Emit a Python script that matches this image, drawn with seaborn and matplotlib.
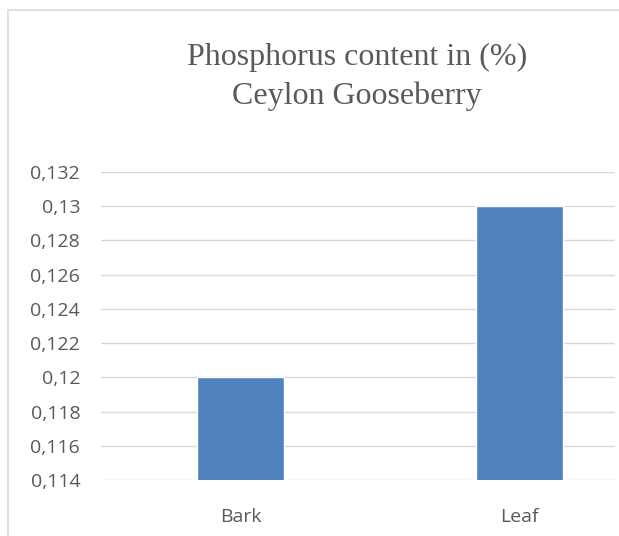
import matplotlib
matplotlib.use("Agg")
import matplotlib.pyplot as plt
import matplotlib.ticker as mticker
import matplotlib.patches as mpatches
import seaborn as sns
import numpy as np
import pandas as pd

parts = ["Bark", "Leaf"]
phosphorus = [0.12, 0.13]
y_ticks = [0.114, 0.116, 0.118, 0.120, 0.122, 0.124, 0.126, 0.128, 0.130, 0.132]
title_lines = ["Phosphorus content in (%)", "Ceylon Gooseberry"]

BAR_COLOR = "#4F81BD"
GRID_COLOR = "#D9D9D9"
TEXT_COLOR = "#595959"

df = pd.DataFrame({"part": parts, "phosphorus": phosphorus})

sns.set_style("white")
W, H = 619, 536
fig = plt.figure(figsize=(W / 100, H / 100), dpi=100)

# chart frame (Excel style border, cut off on the right and bottom)
frame = mpatches.Rectangle((8 / W, -0.1), 1.2, (H - 10) / H + 0.1,
                           transform=fig.transFigure, fill=False,
                           edgecolor=GRID_COLOR, linewidth=1.2)
fig.patches.append(frame)

left, right, top, bottom = 101, 615, 172, 480
ax = fig.add_axes([left / W, (H - bottom) / H, (right - left) / W, (bottom - top) / H])

sns.barplot(data=df, x="part", y="phosphorus", color=BAR_COLOR, width=0.31,
            saturation=1, ax=ax, zorder=3)

ax.set_ylim(0.114, 0.132)
ax.set_xlim(-0.5, -0.5 + (right - left) / 279)
ax.set_yticks(y_ticks)


def comma_fmt(v, pos):
    s = f"{v:.3f}".rstrip("0")
    return s.replace(".", ",")


ax.yaxis.set_major_formatter(mticker.FuncFormatter(comma_fmt))
ax.grid(axis="y", color=GRID_COLOR, linewidth=1, zorder=0)
ax.set_axisbelow(True)
for sp in ax.spines.values():
    sp.set_visible(False)
ax.tick_params(axis="both", length=0, labelsize=14, colors=TEXT_COLOR)
ax.tick_params(axis="y", pad=15)
ax.tick_params(axis="x", pad=20)
for lab in ax.get_xticklabels() + ax.get_yticklabels():
    lab.set_fontfamily("Open Sans")
ax.set_xlabel("")
ax.set_ylabel("")

for i, (line, ypix) in enumerate(zip(title_lines, [57, 96])):
    fig.text(357 / W, 1 - ypix / H, line, ha="center", va="center",
             fontsize=23, color=TEXT_COLOR, family="Liberation Serif")

fig.savefig("out.png", dpi=100)
